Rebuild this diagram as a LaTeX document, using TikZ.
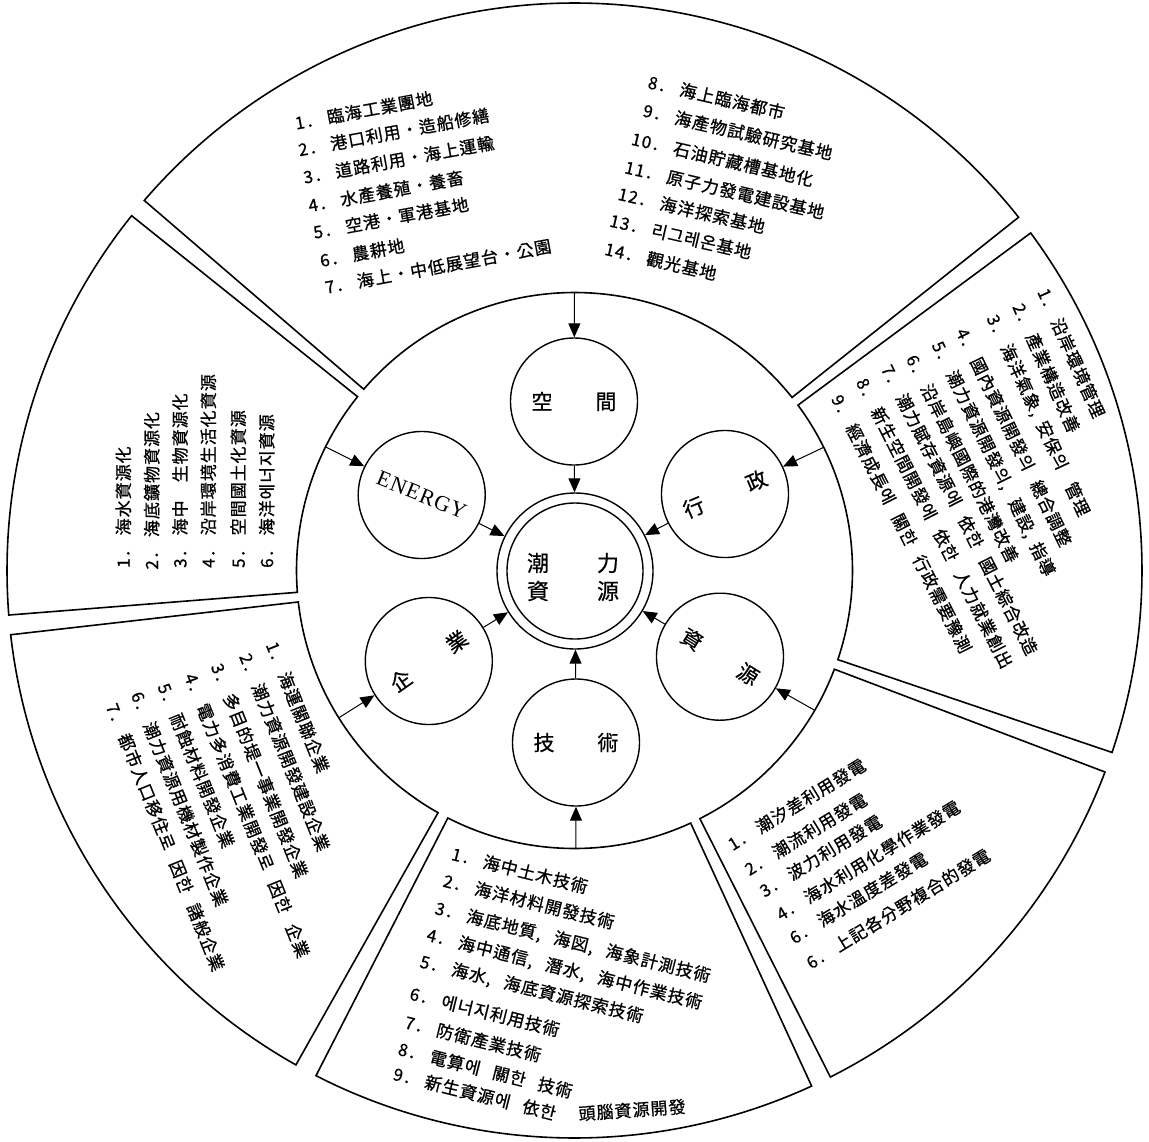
\documentclass[tikz,border=0pt]{standalone}
\usepackage{fontspec}
\newfontfamily\kr[LetterSpace=6, FakeBold=0.8]{Noto Sans CJK KR}
\newfontfamily\krn[FakeBold=0.6]{Noto Sans CJK KR}
\newfontfamily\enfont[LetterSpace=5]{Liberation Serif}
\usetikzlibrary{arrows.meta}
\newcommand\mysector[2]{%
  \draw[secline] ([shift={(O)}]#1:278) -- ([shift={(O)}]#1:567.5)
    arc[start angle=#1,end angle=#2,radius=567.5pt]
    -- ([shift={(O)}]#2:278)
    arc[start angle=#2,end angle=#1,radius=278pt] -- cycle;}
\newcommand\nm[1]{#1．\hspace{5pt}}
\newcommand\gp{\hspace{13pt}}
\begin{document}
\begin{tikzpicture}[x=1pt,y=1pt,
  secline/.style={draw, line width=1.6pt, line join=miter},
  sat/.style={circle, draw, line width=1.4pt, minimum size=127pt, inner sep=0pt,
              font=\krn\fontsize{21}{21}\selectfont},
  arr/.style={-{Triangle[length=14pt,width=12pt]}, line width=1pt},
  lst/.style={anchor=west, inner sep=0pt, font=\kr\fontsize{17}{20}\selectfont}]
\useasboundingbox (0,0) rectangle (1149,-1141);
\coordinate (O) at (574.5,-570.5);

% ---- six outer sectors ----
\mysector{38.5}{139.3}
\mysector{141.3}{184.5}
\mysector{186.5}{240.6}
\mysector{242.9}{294.7}
\mysector{296.8}{339.2}
\mysector{341.3}{396.5}

% ---- centre ----
\node[circle, draw, line width=1.4pt, minimum size=156pt, inner sep=0pt] (core) at (575,-571) {};
\draw[line width=1.4pt] (core.center) circle[radius=68pt];
\node[font=\krn\fontsize{22}{28}\selectfont, align=center, inner sep=0pt] (coretxt) at (573,-577)
  {潮\hspace{48pt}力\\資\hspace{48pt}源};

% ---- satellites ----
\node[sat] (kong) at (574,-401.5) {空\hspace{43pt}間};
\node[sat, rotate=-22, font=\enfont\fontsize{22}{22}\selectfont] (energy) at (421.7,-495) {ENERGY};
\node[sat, rotate=23] (gyeong) at (725,-494) {行\hspace{47pt}政};
\node[sat, rotate=35] (kiup) at (428.8,-661) {企\hspace{47pt}業};
\node[sat, rotate=-32] (jawon) at (720,-656.7) {資\hspace{45pt}源};
\node[sat] (gisul) at (576,-742.5) {技\hspace{43pt}術};

% ---- arrows ----
\coordinate (sTop) at ([shift={(O)}]90:278);
\coordinate (sE) at ([shift={(O)}]153.6:278);
\coordinate (sG) at ([shift={(O)}]26.3:278);
\coordinate (sJ) at ([shift={(O)}]-30.2:278);
\coordinate (sK) at ([shift={(O)}]212:278);
\coordinate (sB) at ([shift={(O)}]-89.7:278);
\draw[arr] (sTop) -- (kong);
\draw[arr] (kong) -- (core);
\draw[arr] (sE) -- (energy);
\draw[arr] (energy) -- (core);
\draw[arr] (sG) -- (gyeong);
\draw[arr] (gyeong) -- (core);
\draw[arr] (sJ) -- (jawon);
\draw[arr] (jawon) -- (core);
\draw[arr] (sK) -- (kiup);
\draw[arr] (kiup) -- (core);
\draw[arr] (sB) -- (gisul);
\draw[arr] (gisul) -- (core);

% ---- top sector, left list ----
\node[lst, rotate=10.5] (ta1) at (295,-123.3) {\nm{1}臨海工業團地};
\node[lst, rotate=10.5] (ta2) at (298.3,-150) {\nm{2}港口利用・造船修繕};
\node[lst, rotate=10.5] (ta3) at (303.3,-177.5) {\nm{3}道路利用・海上運輸};
\node[lst, rotate=10.5] (ta4) at (308.3,-205.8) {\nm{4}水產養殖・養畜};
\node[lst, rotate=10.5] (ta5) at (313.3,-232.5) {\nm{5}空港・軍港基地};
\node[lst, rotate=10.5] (ta6) at (320,-260.8) {\nm{6}農耕地};
\node[lst, rotate=10.5] (ta7) at (325,-287.5) {\nm{7}海上・中低展望台・公園};

% ---- top sector, right list ----
\node[lst, rotate=-13] (tb8) at (648.3,-81.7) {\nm{8}海上臨海都市};
\node[lst, rotate=-13] (tb9) at (643.3,-110) {\nm{9}海產物試驗研究基地};
\node[lst, rotate=-13] (tb10) at (631.7,-138.3) {\nm{10}石油貯藏槽基地化};
\node[lst, rotate=-13] (tb11) at (625,-166.7) {\nm{11}原子力發電建設基地};
\node[lst, rotate=-13] (tb12) at (618.3,-193.3) {\nm{12}海洋探索基地};
\node[lst, rotate=-13] (tb13) at (610,-220) {\nm{13}리그레온基地};
\node[lst, rotate=-13] (tb14) at (605,-248.3) {\nm{14}觀光基地};

% ---- upper right sector ----
\node[lst, rotate=-66] (tc1) at (1042.9,-289.1) {\nm{1}沿岸環境管理};
\node[lst, rotate=-66] (tc2) at (1017.9,-304.1) {\nm{2}產業構造改善};
\node[lst, rotate=-65] (tc3) at (991.2,-315.8) {\nm{3}海洋氣象,\hspace{8pt}安保의\hspace{16pt}管理};
\node[lst, rotate=-64] (tc4) at (961.2,-329.1) {\nm{4}國內資源開發의\gp 總合調整};
\node[lst, rotate=-64] (tc5) at (936.2,-342.5) {\nm{5}潮力資源開發의,\gp 建設,\hspace{8pt}指導};
\node[lst, rotate=-63.5] (tc6) at (911.2,-355.8) {\nm{6}沿岸島嶼國際的港灣改善};
\node[lst, rotate=-63] (tc7) at (886.2,-365.8) {\nm{7}潮力賦存資源에\gp 依한\gp 國土綜合改造};
\node[lst, rotate=-63] (tc8) at (861.2,-379.1) {\nm{8}新生空間開發에\gp 依한\gp 人力就業創出};
\node[lst, rotate=-63] (tc9) at (836.2,-395.8) {\nm{9}經濟成長에\gp 關한\gp 行政需要豫測};

% ---- upper left sector ----
\node[lst, rotate=90] (td1) at (123.3,-568) {\nm{1}海水資源化};
\node[lst, rotate=90] (td2) at (151.7,-569.7) {\nm{2}海底鑛物資源化};
\node[lst, rotate=90] (td3) at (180,-568) {\nm{3}海中\hspace{18pt}生物資源化};
\node[lst, rotate=90] (td4) at (208.3,-568) {\nm{4}沿岸環境生活化資源};
\node[lst, rotate=90] (td5) at (238.3,-568) {\nm{5}空間國土化資源};
\node[lst, rotate=90] (td6) at (266.7,-568) {\nm{6}海洋에너지資源};

% ---- lower left sector ----
\node[lst, rotate=-68] (te1) at (271.5,-642.3) {\nm{1}海運關聯企業};
\node[lst, rotate=-68] (te2) at (244.9,-653.9) {\nm{2}潮力資源開發建設企業};
\node[lst, rotate=-68] (te3) at (216.5,-663.9) {\nm{3}多目的堤一事業開發企業};
\node[lst, rotate=-68] (te4) at (189.9,-673.9) {\nm{4}電力多消費工業開發로\gp 因한\gp 企業};
\node[lst, rotate=-68] (te5) at (163.2,-683.9) {\nm{5}耐蝕材料開發企業};
\node[lst, rotate=-68] (te6) at (136.5,-692.3) {\nm{6}潮力資源用機材製作企業};
\node[lst, rotate=-68] (te7) at (111.5,-703.9) {\nm{7}都市人口移住로\gp 因한\gp 諸般企業};

% ---- lower right sector ----
\node[lst, rotate=31.5] (tf1) at (729.3,-845.8) {\nm{1}潮汐差利用發電};
\node[lst, rotate=31.5] (tf2) at (746,-870.8) {\nm{2}潮流利用發電};
\node[lst, rotate=31.5] (tf3) at (761,-892.5) {\nm{3}波力利用發電};
\node[lst, rotate=31.5] (tf4) at (777.7,-915.8) {\nm{4}海水利用化學作業發電};
\node[lst, rotate=31.5] (tf5) at (791,-939.2) {\nm{6}海水溫度差發電};
\node[lst, rotate=31.5] (tf6) at (807.7,-964.2) {\nm{6}上記各分野複合的發電};

% ---- bottom sector ----
\node[lst, rotate=-14] (tg1) at (451.9,-853.4) {\nm{1}海中土木技術};
\node[lst, rotate=-14] (tg2) at (443.5,-880.1) {\nm{2}海洋材料開發技術};
\node[lst, rotate=-14] (tg3) at (435.2,-908.4) {\nm{3}海底地質,\gp 海図,\gp 海象計測技術};
\node[lst, rotate=-14] (tg4) at (426.9,-935.1) {\nm{4}海中通信,\gp 潛水,\gp 海中作業技術};
\node[lst, rotate=-14] (tg5) at (420.2,-961.8) {\nm{5}海水,\gp 海底資源探索技術};
\node[lst, rotate=-14] (tg6) at (410.2,-993.1) {\nm{6}에너지利用技術};
\node[lst, rotate=-14] (tg7) at (405.2,-1021.8) {\nm{7}防衛產業技術};
\node[lst, rotate=-14] (tg8) at (398.5,-1048.4) {\nm{8}電算에\gp 關한\gp 技術};
\node[lst, rotate=-14] (tg9) at (393.5,-1073.4) {\nm{9}新生資源에\gp 依한};
\node[lst, rotate=4, anchor=center] (tg9b) at (632,-1110) {頭腦資源開發};
\end{tikzpicture}
\end{document}
